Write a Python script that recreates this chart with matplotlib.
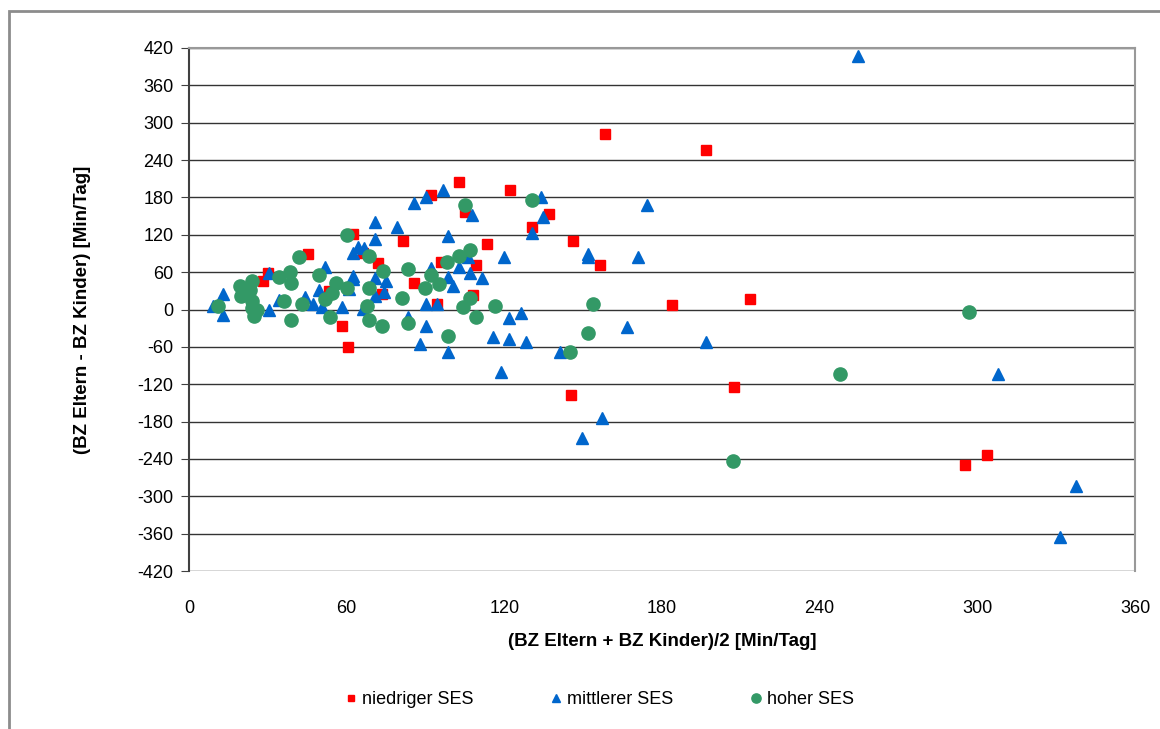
import matplotlib.pyplot as plt
from matplotlib.patches import Rectangle

plt.rcParams['font.family'] = ['Liberation Sans', 'DejaVu Sans']
plt.rcParams['axes.unicode_minus'] = False

# niedriger SES
low_x = [158.4, 196.7, 102.9, 92.2, 122.1, 105.1, 137.0, 130.5, 62.5, 81.5, 113.5, 146.0,
         45.4, 66.3, 72.0, 95.8, 109.2, 156.4, 30.2, 28.3, 85.7, 53.4, 73.3, 108.2, 94.3,
         183.9, 213.5, 58.3, 60.5, 145.5, 207.5, 295.2, 303.7]
low_y = [282, 256, 205, 184, 192, 157, 153, 132, 122, 110, 106, 110,
         89, 90, 74, 76, 71.5, 71.5, 59, 46, 42, 30, 25, 23, 9,
         8, 17, -26.5, -61, -137, -124.5, -249.5, -233]

# mittlerer SES
mid_x = [254.4, 96.5, 90.0, 133.8, 85.6, 174.3, 107.8, 134.8, 70.8, 79.3, 130.5, 70.8,
         98.4, 64.4, 66.6, 62.3, 106.3, 119.9, 151.8, 151.8, 171.0, 51.8, 92.1, 102.9,
         106.9, 111.4, 98.4, 30.3, 62.3, 62.5, 70.8, 75.0, 100.6, 74.3, 49.6, 61.0, 13.1,
         70.8, 44.1, 34.4, 47.3, 50.5, 58.1, 90.0, 94.3, 9.2, 66.3, 30.3, 13.1, 83.4,
         121.9, 126.2, 90.0, 166.8, 115.5, 121.9, 128.4, 196.6, 87.9, 98.4, 141.0, 118.7,
         307.7, 157.1, 149.7, 337.6, 331.4]
mid_y = [406.5, 192, 180, 181, 170.5, 168, 152, 149, 140.5, 132, 123, 114,
         118, 101, 98, 90, 85, 85, 88.6, 84, 85, 68.8, 66, 68,
         59, 51, 51.7, 59, 54, 48.5, 50, 46, 37.7, 28.6, 31.3, 32.4, 24.4,
         21.7, 19.6, 16, 8.8, 4.5, 3.5, 8.3, 9, 5.6, 0.3, -1, -9.5, -11.5,
         -14, -5, -26, -27.6, -43.6, -48, -53, -53, -55, -69, -69, -100,
         -104, -175, -207, -284, -366]

# hoher SES
high_x = [105.0, 130.4, 60.0, 106.9, 102.6, 68.5, 41.8, 98.3, 83.4, 73.9, 38.6, 34.4,
          49.5, 92.0, 23.8, 38.8, 55.8, 95.1, 19.4, 60.0, 68.6, 89.9, 23.2, 54.3, 19.6,
          81.2, 106.9, 51.8, 23.8, 36.0, 42.9, 67.6, 116.4, 104.1, 10.9, 23.8, 26.0, 24.7,
          153.9, 38.8, 53.7, 109.1, 68.6, 83.4, 73.6, 98.4, 151.7, 145.0, 247.9, 297.0,
          207.1]
high_y = [168, 176, 119.6, 95.6, 86, 86, 84, 76.8, 64.5, 62, 60.7, 52,
          55.4, 55.4, 46.5, 43, 43, 41, 37, 35, 35, 35, 31.3, 26.5, 21,
          18, 18, 16.5, 13, 14, 8.8, 5.8, 6, 3.5, 5, 2, -0.8, -10,
          9, -16.5, -12.5, -12.5, -17, -21, -26.5, -42.6, -38, -69, -103, -4.5,
          -244]

fig = plt.figure(figsize=(11.6, 7.29), dpi=100)
ax = fig.add_axes([189 / 1160, 1 - 571 / 729, (1135 - 189) / 1160, (571 - 48) / 729])

# outer chart frame
fig.patches.append(Rectangle((9 / 1160, -0.1), 1.2, 1 - 11 / 729 + 0.1,
                             transform=fig.transFigure, fill=False,
                             edgecolor='#8c8c8c', linewidth=2))

ax.plot(low_x, low_y, 's', color='#FF0000', markersize=7, label='niedriger SES', zorder=3)
ax.plot(mid_x, mid_y, '^', color='#0066CC', markersize=9, label='mittlerer SES', zorder=3)
ax.plot(high_x, high_y, 'o', color='#339966', markersize=9.5, label='hoher SES', zorder=3)

ax.set_xlim(0, 360)
ax.set_ylim(-420, 420)
ax.set_xticks(range(0, 361, 60))
ax.set_yticks(range(-420, 421, 60))
ax.yaxis.grid(True, color='#333333', linewidth=1)
ax.set_axisbelow(True)

for side in ['top', 'right']:
    ax.spines[side].set_color('#999999')
    ax.spines[side].set_linewidth(1.5)
ax.spines['bottom'].set_visible(False)
ax.spines['left'].set_color('#404040')
ax.spines['left'].set_linewidth(1.5)
ax.tick_params(axis='x', length=0, pad=21, labelsize=13)
ax.tick_params(axis='y', direction='out', length=6, color='#404040', labelsize=13, pad=5)

ax.set_xlabel('(BZ Eltern + BZ Kinder)/2 [Min/Tag]', fontsize=13.5, fontweight='bold')
ax.set_ylabel('(BZ Eltern - BZ Kinder) [Min/Tag]', fontsize=13.5, fontweight='bold')
ax.xaxis.set_label_coords(0.5, -(642 - 571) / 523)
ax.xaxis.label.set_va('center')
ax.yaxis.set_label_coords((83 - 189) / 946, 0.5)
ax.yaxis.label.set_va('center')

fig.legend(loc='center', bbox_to_anchor=(0.517, 1 - 700 / 729), ncol=3, frameon=False,
           fontsize=13, markerscale=0.7, handlelength=0.6, handletextpad=0.3,
           columnspacing=4.3)

fig.savefig('out.png', dpi=100)
